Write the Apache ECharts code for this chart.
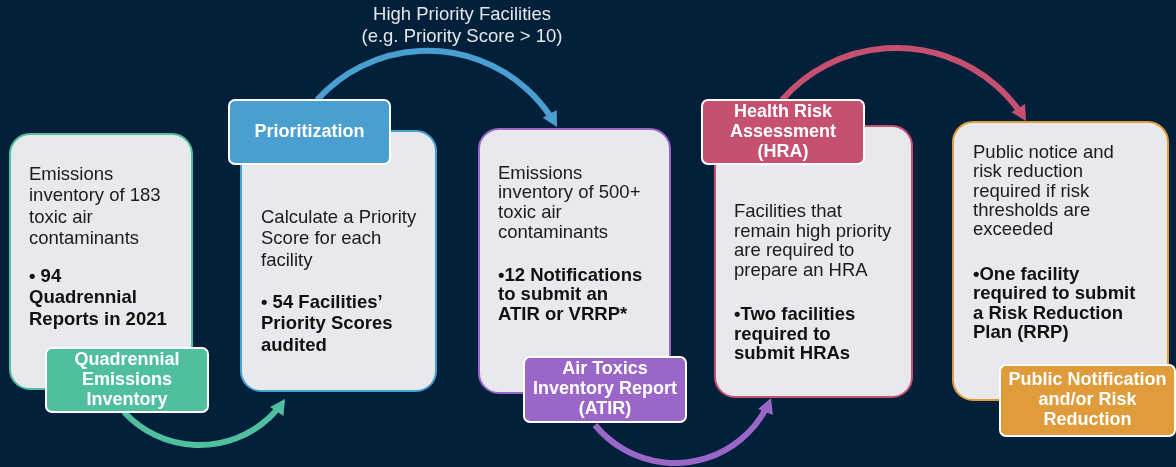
<!DOCTYPE html>
<html>
<head>
<meta charset="utf-8">
<script src="https://cdn.jsdelivr.net/npm/echarts@6/dist/echarts.min.js"></script>
<style>
  html, body { margin: 0; padding: 0; background: #03203a; }
  #chart { width: 1176px; height: 467px; }
</style>
</head>
<body>
<div id="chart"></div>
<script>
// step content
var stepTitles = [
  'Quadrennial\nEmissions\nInventory',
  'Prioritization',
  'Air Toxics\nInventory Report\n(ATIR)',
  'Health Risk\nAssessment\n(HRA)',
  'Public Notification\nand/or Risk\nReduction'
];
var stepDescriptions = [
  'Emissions\ninventory of 183\ntoxic air\ncontaminants',
  'Calculate a Priority\nScore for each\nfacility',
  'Emissions\ninventory of 500+\ntoxic air\ncontaminants',
  'Facilities that\nremain high priority\nare required to\nprepare an HRA',
  'Public notice and\nrisk reduction\nrequired if risk\nthresholds are\nexceeded'
];
var stepResults = [
  '\u2022 94\nQuadrennial\nReports in 2021',
  '\u2022 54 Facilities\u2019\nPriority Scores\naudited',
  '\u202212 Notifications\nto submit an\nATIR or VRRP*',
  '\u2022Two facilities\nrequired to\nsubmit HRAs',
  '\u2022One facility\nrequired to submit\na Risk Reduction\nPlan (RRP)'
];
var connectorNotes = ['', 'High Priority Facilities\n(e.g. Priority Score > 10)', '', ''];

// layout / style (pixels)
var stepColors = ['#4fbf9f', '#4a9fd1', '#9a67c9', '#c5506f', '#e09b3b'];
var cardBox = [[10, 134, 182, 255], [241, 131, 195, 260], [479, 129, 191, 264], [715, 126, 197, 271], [953, 122, 215, 278]];
var labelBox = [[46, 348, 162, 64], [229, 100, 161, 64], [524, 357, 162, 65], [702, 100, 162, 64], [1000, 365, 175, 71]];
var textPos = [[29, 164, 266, 21.5], [261, 207, 292, 21.5], [498, 164, 266, 19.6], [734, 202, 305, 19.7], [973, 143, 265, 19.4]];
var arcPts = [
  [[124, 412], [203, 445], [285, 399]],
  [[317, 100], [453, 53], [557, 127]],
  [[595, 425], [672, 463], [771, 398]],
  [[782, 100], [892, 48], [1026, 121]]
];
var FONT = '"Liberation Sans", Arial, sans-serif';

var chart = echarts.init(document.getElementById('chart'));

// circle through three points
function circleOf(a, b, c) {
  var d = 2 * (a[0] * (b[1] - c[1]) + b[0] * (c[1] - a[1]) + c[0] * (a[1] - b[1]));
  var a2 = a[0] * a[0] + a[1] * a[1], b2 = b[0] * b[0] + b[1] * b[1], c2 = c[0] * c[0] + c[1] * c[1];
  var ux = (a2 * (b[1] - c[1]) + b2 * (c[1] - a[1]) + c2 * (a[1] - b[1])) / d;
  var uy = (a2 * (c[0] - b[0]) + b2 * (a[0] - c[0]) + c2 * (b[0] - a[0])) / d;
  return [ux, uy, Math.sqrt((a[0] - ux) * (a[0] - ux) + (a[1] - uy) * (a[1] - uy))];
}

function renderArc(params, api) {
  var i = params.dataIndex;
  var p0 = arcPts[i][0], m = arcPts[i][1], p2 = arcPts[i][2];
  var circ = circleOf(p0, m, p2);
  var cx = circ[0], cy = circ[1], r = circ[2];
  var cross = (m[0] - p0[0]) * (p2[1] - m[1]) - (m[1] - p0[1]) * (p2[0] - m[0]);
  var cw = cross > 0;
  var a0 = Math.atan2(p0[1] - cy, p0[0] - cx);
  var a2 = Math.atan2(p2[1] - cy, p2[0] - cx);
  if (cw && a2 < a0) a2 += Math.PI * 2;
  if (!cw && a2 > a0) a2 -= Math.PI * 2;
  var dir = cw ? 1 : -1;
  var L = 15, W = 8;
  // tangent at the tip
  var tx = cw ? -Math.sin(a2) : Math.sin(a2);
  var ty = cw ? Math.cos(a2) : -Math.cos(a2);
  var bx = p2[0] - tx * L, by = p2[1] - ty * L;
  var aEnd = a2 - dir * (L - 3) / r;
  var color = stepColors[i];
  var kids = [
    {
      type: 'arc',
      shape: { cx: cx, cy: cy, r: r, startAngle: a0, endAngle: aEnd, clockwise: cw },
      style: { stroke: color, lineWidth: 6, fill: null }
    },
    {
      type: 'polygon',
      shape: { points: [[p2[0], p2[1]], [bx - ty * W, by + tx * W], [bx + ty * W, by - tx * W]] },
      style: { fill: color }
    }
  ];
  if (connectorNotes[i]) {
    kids.push({
      type: 'text',
      x: m[0] + 9, y: 4,
      style: {
        text: connectorNotes[i], fill: '#e4e7eb', fontSize: 18.5, fontFamily: FONT,
        lineHeight: 22, align: 'center', verticalAlign: 'top'
      }
    });
  }
  return { type: 'group', children: kids };
}

function renderStep(params, api) {
  var i = params.dataIndex;
  var c = cardBox[i], l = labelBox[i], t = textPos[i];
  return {
    type: 'group',
    children: [
      {
        type: 'rect',
        shape: { x: c[0], y: c[1], width: c[2], height: c[3], r: 20 },
        style: { fill: '#e7e9ec', stroke: stepColors[i], lineWidth: 2 }
      },
      {
        type: 'text',
        x: t[0], y: t[1],
        style: {
          text: stepDescriptions[i], fill: '#1b1b1b', fontSize: 18.5, fontFamily: FONT,
          lineHeight: t[3], align: 'left', verticalAlign: 'top'
        }
      },
      {
        type: 'text',
        x: t[0], y: t[2],
        style: {
          text: stepResults[i], fill: '#111', fontSize: 18.5, fontWeight: 'bold', fontFamily: FONT,
          lineHeight: t[3], align: 'left', verticalAlign: 'top'
        }
      },
      {
        type: 'rect',
        shape: { x: l[0], y: l[1], width: l[2], height: l[3], r: 6 },
        style: { fill: stepColors[i], stroke: '#ffffff', lineWidth: 2 }
      },
      {
        type: 'text',
        x: l[0] + l[2] / 2, y: l[1] + l[3] / 2,
        style: {
          text: stepTitles[i], fill: '#ffffff', fontSize: 18, fontWeight: 'bold', fontFamily: FONT,
          lineHeight: 20, align: 'center', verticalAlign: 'middle'
        }
      }
    ]
  };
}

var option = {
  backgroundColor: '#03203a',
  animation: false,
  series: [
    {
      type: 'custom',
      name: 'connectors',
      coordinateSystem: 'none',
      z: 1,
      data: connectorNotes.map(function (n, i) { return [i]; }),
      renderItem: renderArc
    },
    {
      type: 'custom',
      name: 'steps',
      coordinateSystem: 'none',
      z: 2,
      data: stepTitles.map(function (n, i) { return [i]; }),
      renderItem: renderStep
    }
  ]
};
chart.setOption(option);
</script>
</body>
</html>
